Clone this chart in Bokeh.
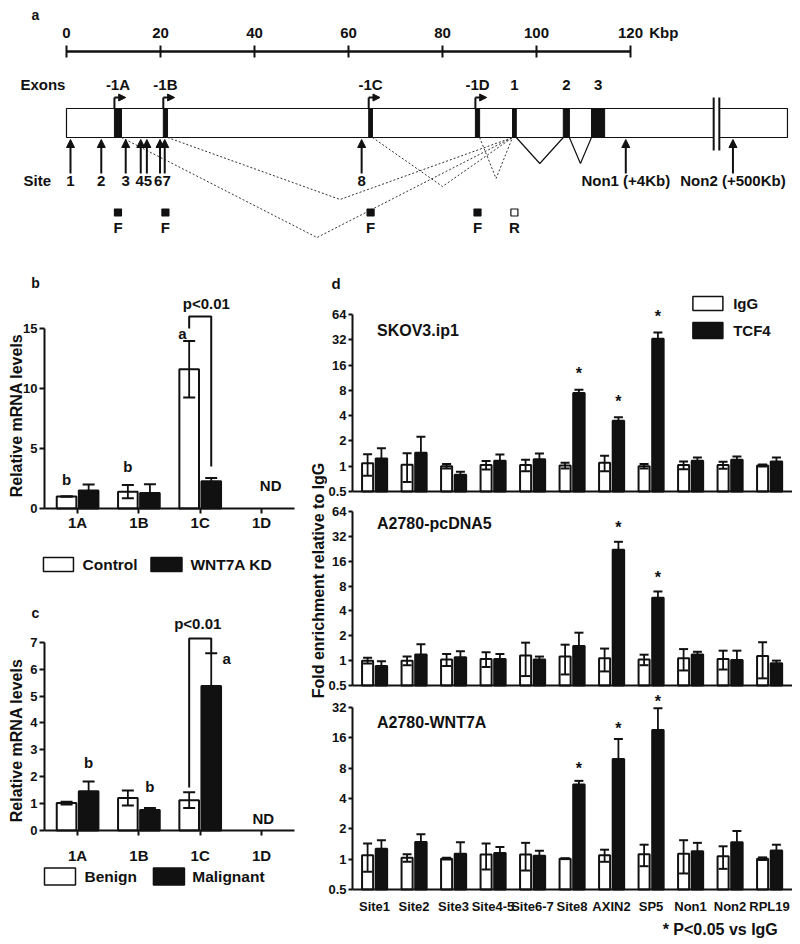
import math
from bokeh.plotting import figure
from bokeh.layouts import column, row
from bokeh.models import (Range1d, FixedTicker, Arrow, NormalHead, ColumnDataSource,
                          CustomJSTickFormatter)
from bokeh.core.properties import value
from bokeh.embed import file_html
from bokeh.resources import INLINE

NAN = float("nan")
FONT = "Liberation Sans"
INK = "#111111"

# ---------------- panel a: gene schematic (positions in kbp) ----------------
scale_ticks = [0, 20, 40, 60, 80, 100, 120]
scale_unit = "Kbp"
exon_names = ["-1A", "-1B", "-1C", "-1D", "1", "2", "3"]
exon_start = [10.2, 20.6, 64.3, 87.0, 94.9, 105.7, 111.7]
exon_end = [11.7, 21.5, 65.1, 87.9, 95.7, 107.0, 114.5]
gene_end = 153.4
break_pos = [137.7, 138.9]
site_pos = [0.85, 7.4, 12.6, 15.8, 17.1, 19.9, 20.9, 62.8, 119.0, 141.8]
site_groups = [[0], [1], [2], [3, 4], [5, 6], [7], [8], [9]]
site_labels = ["1", "2", "3", "45", "67", "8", "Non1 (+4Kb)", "Non2 (+500Kb)"]
primer_exons = ["-1A", "-1B", "-1C", "-1D", "1"]
primer_kind = ["F", "F", "F", "F", "R"]

# ---------------- panel b ----------------
b_cats = ["1A", "1B", "1C", "1D"]
b_series = ["Control", "WNT7A KD"]
b_control = [1.0, 1.4, 11.6, NAN]
b_control_err = [0.0, 0.55, 2.35, NAN]
b_kd = [1.5, 1.3, 2.28, NAN]
b_kd_err = [0.5, 0.72, 0.27, NAN]
b_yticks = [0, 5, 10, 15]

# ---------------- panel c ----------------
c_cats = ["1A", "1B", "1C", "1D"]
c_series = ["Benign", "Malignant"]
c_benign = [1.02, 1.21, 1.13, NAN]
c_benign_err = [0.05, 0.28, 0.29, NAN]
c_malig = [1.46, 0.76, 5.37, NAN]
c_malig_err = [0.36, 0.08, 1.22, NAN]
c_yticks = [0, 1, 2, 3, 4, 5, 6, 7]

# ---------------- panel d ----------------
d_cats = ["Site1", "Site2", "Site3", "Site4-5", "Site6-7", "Site8", "AXIN2", "SP5", "Non1", "Non2", "RPL19"]
d_series = ["IgG", "TCF4"]
d_yticks = [0.5, 1, 2, 4, 8, 16, 32, 64]
d_ylabel = "Fold enrichment relative to IgG"
d_note = "* P<0.05 vs IgG"

skov_igg = [1.08, 1.04, 1.0, 1.03, 1.03, 1.02, 1.1, 1.0, 1.03, 1.03, 1.02]
skov_igg_err = [0.31, 0.39, 0.06, 0.12, 0.16, 0.08, 0.23, 0.06, 0.11, 0.10, 0.03]
skov_tcf = [1.23, 1.44, 0.79, 1.16, 1.21, 7.45, 3.48, 32.9, 1.16, 1.19, 1.14]
skov_tcf_err = [0.41, 0.80, 0.07, 0.22, 0.21, 0.65, 0.33, 6.1, 0.11, 0.11, 0.13]
skov_sig = ["Site8", "AXIN2", "SP5"]

pc_igg = [1.0, 1.0, 1.03, 1.05, 1.15, 1.12, 1.07, 1.03, 1.07, 1.05, 1.14]
pc_igg_err = [0.08, 0.12, 0.17, 0.21, 0.50, 0.44, 0.33, 0.15, 0.31, 0.27, 0.53]
pc_tcf = [0.86, 1.19, 1.1, 1.05, 1.03, 1.5, 22.0, 5.78, 1.19, 1.02, 0.93]
pc_tcf_err = [0.12, 0.39, 0.2, 0.15, 0.09, 0.68, 5.5, 1.1, 0.09, 0.30, 0.07]
pc_sig = ["AXIN2", "SP5"]

wnt_igg = [1.09, 1.03, 1.01, 1.11, 1.11, 1.01, 1.09, 1.12, 1.13, 1.07, 1.01]
wnt_igg_err = [0.34, 0.09, 0.02, 0.32, 0.34, 0.01, 0.15, 0.27, 0.41, 0.27, 0.03]
wnt_tcf = [1.27, 1.48, 1.13, 1.15, 1.08, 5.5, 9.86, 19.1, 1.2, 1.47, 1.22]
wnt_tcf_err = [0.27, 0.28, 0.34, 0.17, 0.13, 0.48, 5.7, 12.3, 0.25, 0.43, 0.17]
wnt_sig = ["Site8", "AXIN2", "SP5"]


# ---------------- helpers ----------------
def txt(p, xs, ys, texts, size, align="center", baseline="middle", angle=0.0, y_offset=0):
    p.text(x=xs, y=ys, text=texts, text_font=value(FONT), text_font_style="bold",
           text_font_size=size, text_align=align, text_baseline=baseline,
           text_color=INK, angle=angle, y_offset=y_offset)


def bare(p):
    p.grid.visible = False
    p.outline_line_color = None
    p.background_fill_color = None
    p.border_fill_color = None


def style_axes(p, tick_size):
    bare(p)
    for ax in p.axis:
        ax.axis_line_width = 2
        ax.axis_line_color = INK
        ax.major_tick_line_width = 2
        ax.major_tick_line_color = INK
        ax.major_tick_in = 0
        ax.major_tick_out = 5
        ax.minor_tick_line_color = None
        ax.major_label_text_font = FONT
        ax.major_label_text_font_style = "bold"
        ax.major_label_text_font_size = tick_size
        ax.major_label_text_color = INK
        ax.major_label_standoff = 2


def cat_axis(ax, cats):
    ax.ticker = FixedTicker(ticks=list(range(len(cats))))
    ax.major_label_overrides = {i: c for i, c in enumerate(cats)}


def draw_bars(p, vals, errs, dx, width, fill, base, cap):
    xs = [i + dx for i in range(len(vals))]
    lo = [v - e for v, e in zip(vals, errs)]
    hi = [v + e for v, e in zip(vals, errs)]
    src = ColumnDataSource(dict(x=xs, v=vals, lo=lo, hi=hi))
    p.vbar(x="x", top="v", bottom=base, width=width, source=src,
           fill_color=fill, line_color=INK, line_width=2)
    p.segment(x0="x", y0="lo", x1="x", y1="hi", source=src, line_color=INK, line_width=1.8)
    for col in ("lo", "hi"):
        p.scatter(x="x", y=col, marker="dash", size=cap, line_color=INK, line_width=2, source=src)


def legend_box(p, x, y, w, h, fill, text, tx, size):
    p.rect(x=[x], y=[y], width=w, height=h, width_units="screen", height_units="screen",
           fill_color=fill, line_color=INK, line_width=1.5)
    txt(p, [tx], [y], [text], size, align="left")


def cx(cats, cat, dx):
    return cats.index(cat) + dx


# ================= panel a =================
pa = figure(width=784, height=250, x_range=Range1d(-12.34, 154.47), y_range=Range1d(250, 0),
            x_axis_location=None, y_axis_location=None, min_border=0,
            output_backend="svg", toolbar_location=None)
bare(pa)
txt(pa, [-6.6], [6], ["a"], "14px")
pa.segment(x0=[scale_ticks[0]], y0=[43], x1=[scale_ticks[-1]], y1=[43], line_width=2.5, line_color=INK)
pa.segment(x0=scale_ticks, y0=37, x1=scale_ticks, y1=49, line_width=2, line_color=INK)
txt(pa, scale_ticks, [24] * len(scale_ticks), [str(t) for t in scale_ticks], "15px")
txt(pa, [scale_ticks[-1] + 4], [24], [scale_unit], "15px", align="left")

exon_mid = [(s + e) / 2 for s, e in zip(exon_start, exon_end)]
txt(pa, [-9.8], [76], ["Exons"], "15px", align="left")
txt(pa, exon_mid, [76] * len(exon_mid), exon_names, "15px")

pa.quad(left=[0], right=[gene_end], top=[100], bottom=[129], fill_color="white",
        line_color=INK, line_width=1.2)
pa.quad(left=[break_pos[0]], right=[break_pos[1]], top=[97], bottom=[132], fill_color="white",
        line_color=None)
pa.segment(x0=break_pos, y0=89, x1=break_pos, y1=142, line_width=2, line_color=INK)
pa.quad(left=exon_start, right=exon_end, top=100, bottom=129, fill_color=INK, line_color=INK,
        line_width=1)

first = exon_start[:4]
pa.segment(x0=first, y0=100, x1=first, y1=89, line_width=2, line_color=INK)
pa.add_layout(Arrow(source=ColumnDataSource(dict(x0=first, x1=[v + 2.4 for v in first])),
                    x_start="x0", y_start=89, x_end="x1", y_end=89, line_width=2, line_color=INK,
                    end=NormalHead(size=7, fill_color=INK, line_color=INK, line_width=1)))

pa.add_layout(Arrow(source=ColumnDataSource(dict(x=site_pos)),
                    x_start="x", y_start=165, x_end="x", y_end=131, line_width=2, line_color=INK,
                    end=NormalHead(size=8, fill_color=INK, line_color=INK, line_width=1)))
site_label_x = [sum(site_pos[i] for i in g) / len(g) for g in site_groups]
txt(pa, [-9.15], [172], ["Site"], "15px", align="left")
txt(pa, site_label_x, [172] * len(site_labels), site_labels, "15px")

sx, sy = [], []
for i in (4, 5):
    sx.append([exon_end[i], (exon_end[i] + exon_start[i + 1]) / 2, exon_start[i + 1]])
    sy.append([129, 155, 129])
pa.multi_line(xs=sx, ys=sy, line_color=INK, line_width=1.2)
depths = [229, 191, 178, 170]
dx_, dy_ = [], []
for i in range(4):
    dx_.append([exon_end[i], (exon_end[i] + exon_start[4]) / 2, exon_start[4]])
    dy_.append([129, depths[i], 129])
pa.multi_line(xs=dx_, ys=dy_, line_color="#333333", line_width=1, line_dash="2 2")

pm = [exon_mid[exon_names.index(e)] for e in primer_exons]
pa.scatter(x=pm, y=[204] * len(pm), marker="square", size=7, line_color=INK, line_width=1.2,
           fill_color=[INK if k == "F" else "white" for k in primer_kind])
txt(pa, pm, [219] * len(pm), primer_kind, "15px")


# ================= panels b and c =================
def mrna_panel(height, y0, y1, cats, yticks, std):
    p = figure(width=292, height=height, x_range=Range1d(-1.127, 3.636), y_range=Range1d(y0, y1),
               min_border=0, output_backend="svg", toolbar_location=None)
    style_axes(p, "13px")
    p.xaxis.fixed_location = 0
    p.xaxis.bounds = (-0.54, 3.54)
    cat_axis(p.xaxis[0], cats)
    p.xaxis.major_label_text_font_size = "15px"
    p.xaxis.major_label_standoff = std
    p.yaxis.fixed_location = -0.54
    p.yaxis.bounds = (yticks[0], yticks[-1])
    p.yaxis.ticker = FixedTicker(ticks=yticks)
    return p


pb = mrna_panel(332, -6.83, 20.83, b_cats, b_yticks, 0)
draw_bars(pb, b_control, b_control_err, -0.18, 0.32, "white", 0, 12)
draw_bars(pb, b_kd, b_kd_err, 0.18, 0.32, INK, 0, 12)
txt(pb, [cx(b_cats, "1A", -0.18), cx(b_cats, "1B", -0.18), cx(b_cats, "1C", -0.29)],
    [2.42, 3.5, 14.58], ["b", "b", "a"], "15px")
bxl, bxr = cx(b_cats, "1C", -0.18), cx(b_cats, "1C", 0.18)
pb.line(x=[bxl, bxl, bxr, bxr], y=[15, 16, 16, 3.5], line_color=INK, line_width=2)
txt(pb, [cx(b_cats, "1C", 0.1)], [17.1], ["p<0.01"], "15px")
txt(pb, [cx(b_cats, "1D", 0.15)], [1.92], ["ND"], "15px")
legend_box(pb, -0.312, -4.67, 30, 14, "white", b_series[0], 0.08, "15.5px")
legend_box(pb, 1.45, -4.67, 31, 14, INK, b_series[1], 1.84, "15.5px")
txt(pb, [-0.687], [18.83], ["b"], "14px")
txt(pb, [-1.0], [7.75], ["Relative mRNA levels"], "16px", angle=math.pi / 2)

pc = mrna_panel(348, -4.01, 8.92, c_cats, c_yticks, 11)
draw_bars(pc, c_benign, c_benign_err, -0.18, 0.32, "white", 0, 12)
draw_bars(pc, c_malig, c_malig_err, 0.18, 0.32, INK, 0, 12)
txt(pc, [cx(c_cats, "1A", 0.18), cx(c_cats, "1B", 0.18), cx(c_cats, "1C", 0.43)],
    [2.53, 1.64, 6.39], ["b", "b", "a"], "15px")
cxl, cxr = cx(c_cats, "1C", -0.18), cx(c_cats, "1C", 0.18)
pc.line(x=[cxl, cxl, cxr, cxr], y=[1.6, 7.14, 7.14, 6.58], line_color=INK, line_width=2)
txt(pc, [cx(c_cats, "1C", -0.04)], [7.7], ["p<0.01"], "15px")
txt(pc, [cx(c_cats, "1D", 0.03)], [0.45], ["ND"], "15px")
legend_box(pc, -0.287, -1.71, 31, 17, "white", c_series[0], 0.113, "15.5px")
legend_box(pc, 1.49, -1.71, 31, 17, INK, c_series[1], 1.87, "15.5px")
txt(pc, [-0.687], [8.10], ["c"], "14px")
txt(pc, [-1.0], [3.35], ["Relative mRNA levels"], "16px", angle=math.pi / 2)

# ================= strip with shared y label of panel d =================
ps = figure(width=27, height=680, x_range=Range1d(0, 1), y_range=Range1d(0, 680),
            x_axis_location=None, y_axis_location=None, min_border=0,
            output_backend="svg", toolbar_location=None)
bare(ps)
txt(ps, [0.667], [358], [d_ylabel], "16px", angle=math.pi / 2)


# ================= panel d =================
def d_panel(height, y0, y1, igg, igg_e, tcf, tcf_e, ticks, sig, title, title_y, star_off, last):
    p = figure(width=465, height=height, x_range=Range1d(-1.19, 10.582),
               y_range=Range1d(y0, y1), y_axis_type="log", min_border=0,
               output_backend="svg", toolbar_location=None)
    style_axes(p, "13px")
    p.yaxis.major_tick_out = 4
    p.yaxis.fixed_location = -0.557
    p.yaxis.ticker = FixedTicker(ticks=ticks)
    p.yaxis.formatter = CustomJSTickFormatter(code="return String(tick)")
    p.yaxis.bounds = (ticks[0], ticks[-1])
    p.xaxis.fixed_location = ticks[0]
    p.xaxis.bounds = (-0.557, 10.582)
    p.xaxis.major_tick_out = 0
    if last:
        cat_axis(p.xaxis[0], d_cats)
        p.xaxis.major_label_standoff = 10
    else:
        p.xaxis.ticker = FixedTicker(ticks=[])
    draw_bars(p, igg, igg_e, -0.175, 0.28, "white", ticks[0], 9)
    draw_bars(p, tcf, tcf_e, 0.175, 0.29, INK, ticks[0], 9)
    sx_ = [cx(d_cats, c, 0.175) for c in sig]
    sy_ = [tcf[d_cats.index(c)] + tcf_e[d_cats.index(c)] for c in sig]
    txt(p, sx_, sy_, ["*"] * len(sig), "16px", y_offset=star_off)
    txt(p, [0.063], [title_y], [title], "16px", align="left")
    return p


d1 = d_panel(242, 0.3903, 296.6, skov_igg, skov_igg_err, skov_tcf, skov_tcf_err, d_yticks,
             skov_sig, "SKOV3.ip1", 41.2, -16, False)
legend_box(d1, 8.44, 86.5, 30, 14, "white", d_series[0], 9.08, "15px")
legend_box(d1, 8.44, 41.2, 30, 16, INK, d_series[1], 9.08, "15px")
txt(d1, [-0.975], [149.5], ["d"], "15px")

d2 = d_panel(192, 0.4111, 87.0, pc_igg, pc_igg_err, pc_tcf, pc_tcf_err, d_yticks, pc_sig,
             "A2780-pcDNA5", 45.8, -14, False)
d3 = d_panel(246, 0.1628, 45.1, wnt_igg, wnt_igg_err, wnt_tcf, wnt_tcf_err, d_yticks[:-1],
             wnt_sig, "A2780-WNT7A", 22.7, [-12, -11, -7], True)
txt(d3, [10.21], [0.2], [d_note], "16px", align="right")

layout = column(pa, row(column(pb, pc), ps, column(d1, d2, d3)))
layout.margin = (8, 0, 0, 8)
open("out.html", "w").write(file_html(layout, INLINE))
